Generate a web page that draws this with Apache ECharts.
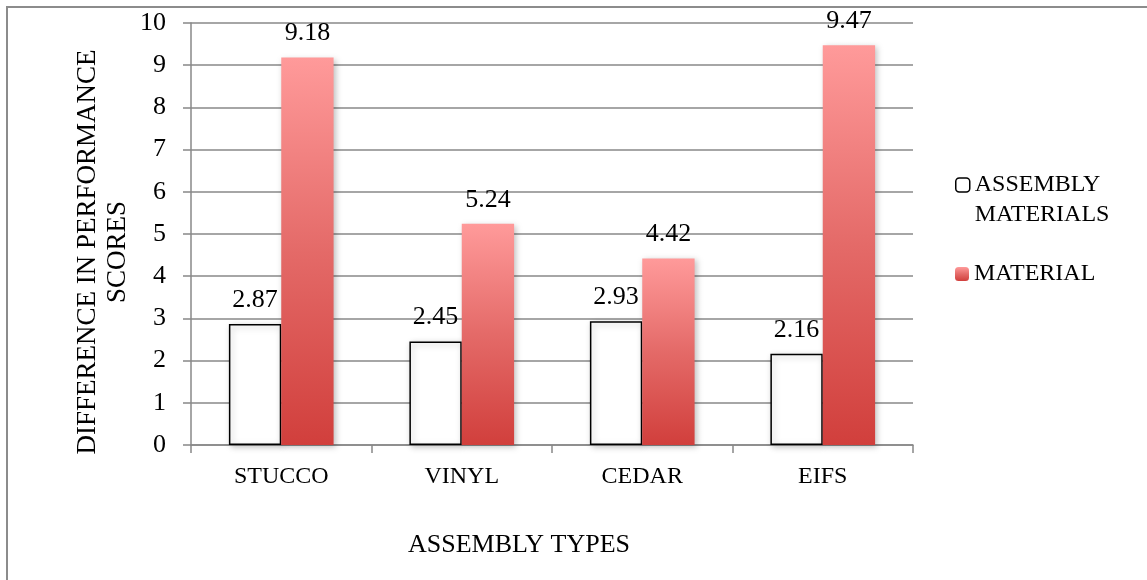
<!DOCTYPE html>
<html>
<head>
<meta charset="utf-8">
<script src="https://cdn.jsdelivr.net/npm/echarts@6/dist/echarts.min.js"></script>
<style>
  html, body { margin: 0; padding: 0; background: #fff; }
  #chart { width: 1147px; height: 580px; }
</style>
</head>
<body>
<div id="chart"></div>
<script>
// Assembly types along the x axis
const categories = ['STUCCO', 'VINYL', 'CEDAR', 'EIFS'];
// Difference in performance scores per series
const assemblyMaterials = [2.87, 2.45, 2.93, 2.16];
const material = [9.18, 5.24, 4.42, 9.47];
const seriesNames = ['ASSEMBLY\nMATERIALS', 'MATERIAL'];

const FONT = '"Liberation Serif", "Times New Roman", serif';

const chart = echarts.init(document.getElementById('chart'));

const labelStyle = {
  show: true,
  position: 'top',
  distance: 11,
  color: '#000',
  fontFamily: FONT,
  fontSize: 26,
  formatter: p => p.value.toFixed(2)
};

const barShadow = {
  shadowColor: 'rgba(0,0,0,0.25)',
  shadowBlur: 6,
  shadowOffsetX: 2,
  shadowOffsetY: 2
};

const legendText = { fontFamily: FONT, fontSize: 24, color: '#000', lineHeight: 30 };

chart.setOption({
  backgroundColor: '#fff',
  animation: false,
  graphic: [{
    type: 'rect',
    shape: { x: 7, y: 7, width: 1160, height: 600 },
    style: { fill: 'none', stroke: '#8c8c8c', lineWidth: 2 },
    silent: true,
    z: -1
  }],
  grid: { left: 191, right: 234, top: 23, bottom: 135, containLabel: false },
  legend: [
    {
      // two-line entry: a blank leading line keeps the icon beside the first line
      orient: 'vertical',
      left: 955,
      top: 140,
      padding: 0,
      itemWidth: 14,
      itemHeight: 14,
      textStyle: legendText,
      formatter: name => '\u00a0\n' + name,
      data: [{ name: seriesNames[0], itemStyle: { color: '#fff', borderColor: '#000', borderWidth: 1.5 } }]
    },
    {
      orient: 'vertical',
      left: 955,
      top: 259,
      padding: 0,
      itemWidth: 14,
      itemHeight: 14,
      textStyle: legendText,
      data: [{ name: seriesNames[1] }]
    }
  ],
  xAxis: {
    type: 'category',
    data: categories,
    name: 'ASSEMBLY TYPES',
    nameLocation: 'middle',
    nameGap: 87,
    nameMoveOverlap: false,
    nameTextStyle: { fontFamily: FONT, fontSize: 26, color: '#000', padding: [0, 66, 0, 0] },
    axisLine: { lineStyle: { color: '#888', width: 1.5 } },
    axisTick: { show: true, length: 8, lineStyle: { color: '#888', width: 1.5 } },
    axisLabel: { fontFamily: FONT, fontSize: 24, color: '#000', margin: 20 },
    splitLine: { show: false }
  },
  yAxis: {
    type: 'value',
    min: 0,
    max: 10,
    interval: 1,
    name: 'DIFFERENCE IN PERFORMANCE\nSCORES',
    nameLocation: 'middle',
    nameGap: 58,
    nameMoveOverlap: false,
    nameRotate: 90,
    nameTextStyle: { fontFamily: FONT, fontSize: 27, color: '#000', lineHeight: 30, padding: [0, 36, 0, 0] },
    axisLine: { show: true, lineStyle: { color: '#888', width: 1.5 } },
    axisTick: { show: true, length: 8, lineStyle: { color: '#888', width: 1.5 } },
    axisLabel: { fontFamily: FONT, fontSize: 26, color: '#000', margin: 25 },
    splitLine: { show: true, lineStyle: { color: '#888', width: 1.5 } }
  },
  series: [
    {
      name: seriesNames[0],
      type: 'bar',
      data: assemblyMaterials,
      barGap: '0%',
      barCategoryGap: '42%',
      itemStyle: Object.assign({ color: '#fff', borderColor: '#000', borderWidth: 1.5 }, barShadow),
      label: labelStyle
    },
    {
      name: seriesNames[1],
      type: 'bar',
      data: material,
      barGap: '0%',
      barCategoryGap: '42%',
      itemStyle: Object.assign({
        color: new echarts.graphic.LinearGradient(0, 0, 0, 1, [
          { offset: 0, color: '#ff9a9a' },
          { offset: 0.5, color: '#e46a68' },
          { offset: 1, color: '#d13f3c' }
        ])
      }, barShadow),
      label: labelStyle
    }
  ]
});
</script>
</body>
</html>
